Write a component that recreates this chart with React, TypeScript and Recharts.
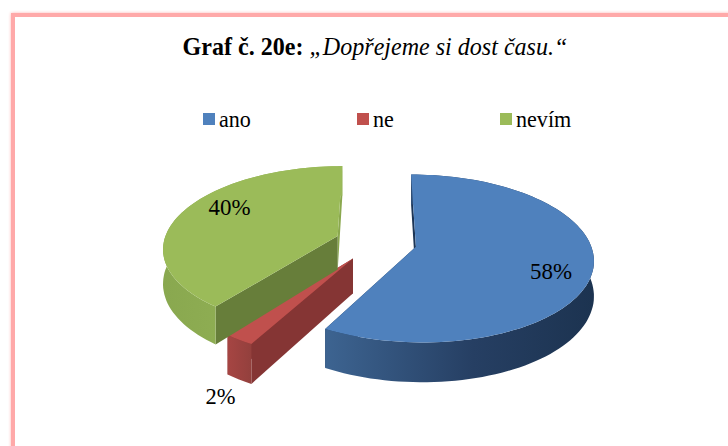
import { Legend, Pie, PieChart } from "recharts";

const categories = ["ano", "ne", "nevím"];
const shares = [58, 2.4, 39.6];
const percentLabels = ["58%", "2%", "40%"];
const labelWidths = [42, 30, 42];
const legendTextWidths = [32, 21, 55];

const topColors = ["#4F81BD", "#C0504D", "#9BBB59"];
// wall colours: radial face where the slice starts, radial face where it ends
const startFaceColors = ["#1C3556", "#853534", "#677E3A"];
const endFaceColors = ["#1C3556", "#853534", "#8AA84E"];
const wallGradients = ["wallBlue", "wallRed", "wallGreen"];

// fake 3D set-up: how the flat pie is tilted and how far the slices are pulled out
const TILT_RADIUS = 81;
const PERSPECTIVE = 0.138;
const EXPLODE = 0.235;
const DEPTH = 34;
const labelFractions = [0.74, 0.95, 0.67];
const labelShifts = [
  [5, 9],
  [-25, 61],
  [-3, -12],
];

const FONT = "'Liberation Serif', 'Times New Roman', serif";

const chartData = categories.map((name, i) => ({
  name,
  value: shares[i],
  label: percentLabels[i],
}));

type Pt = [number, number];

// x, y are offsets on the pie's plane, in px, y pointing to the viewer
function project(cx: number, cy: number, r: number, x: number, y: number, drop = 0): Pt {
  const yTilted = (y * TILT_RADIUS) / r;
  const s = 1 / (1 - (PERSPECTIVE * yTilted) / TILT_RADIUS);
  return [cx + x * s, cy + yTilted * s + drop * s];
}

const polar = (r: number, clock: number): Pt => {
  const a = (clock * Math.PI) / 180;
  return [r * Math.sin(a), -r * Math.cos(a)];
};

const toPath = (pts: Pt[]) =>
  "M" + pts.map((p) => `${p[0].toFixed(1)},${p[1].toFixed(1)}`).join("L") + "Z";

function Slice3D(props: any) {
  const { cx, cy, outerRadius, startAngle, endAngle, index } = props;
  const from = 90 - startAngle;
  const to = 90 - endAngle;
  const [ox, oy] = polar(outerRadius * EXPLODE, (from + to) / 2);

  const onTop = (r: number, clock: number, drop = 0) => {
    const [x, y] = polar(r, clock);
    return project(cx, cy, outerRadius, ox + x, oy + y, drop);
  };

  const rim: number[] = [];
  const steps = Math.max(4, Math.round((to - from) / 2));
  for (let k = 0; k <= steps; k++) rim.push(from + ((to - from) * k) / steps);

  const top = [onTop(0, 0), ...rim.map((a) => onTop(outerRadius, a))];
  const wall = [
    ...rim.map((a) => onTop(outerRadius, a)),
    ...rim.slice().reverse().map((a) => onTop(outerRadius, a, DEPTH)),
  ];
  const face = (clock: number) => [
    onTop(0, 0),
    onTop(outerRadius, clock),
    onTop(outerRadius, clock, DEPTH),
    onTop(0, 0, DEPTH),
  ];

  return (
    <g>
      <path d={toPath(face(to))} fill={endFaceColors[index]} />
      <path d={toPath(face(from))} fill={startFaceColors[index]} />
      <path d={toPath(wall)} fill={`url(#${wallGradients[index]})`} />
      <path d={toPath(top)} fill={topColors[index]} />
    </g>
  );
}

function SliceLabel(props: any) {
  const { cx, cy, outerRadius, startAngle, endAngle, index, payload } = props;
  const mid = 90 - (startAngle + endAngle) / 2;
  const [ox, oy] = polar(outerRadius * (EXPLODE + labelFractions[index]), mid);
  const [x, y] = project(cx, cy, outerRadius, ox, oy);
  return (
    <text
      x={x + labelShifts[index][0]}
      y={y + labelShifts[index][1]}
      textAnchor="middle"
      dominantBaseline="central"
      fontFamily={FONT}
      fontSize={24}
      textLength={labelWidths[index]}
      lengthAdjust="spacingAndGlyphs"
      fill="#000"
    >
      {payload.label}
    </text>
  );
}

function LegendRow({ payload }: any) {
  return (
    <div style={{ display: "flex", gap: 106, fontFamily: FONT, fontSize: 24, lineHeight: "24px" }}>
      {payload.map((entry: any, i: number) => (
        <div key={entry.value} style={{ display: "flex", alignItems: "center", gap: 4 }}>
          <span style={{ width: 12, height: 12, background: topColors[i] }} />
          <span
            style={{
              display: "block",
              width: legendTextWidths[i],
              whiteSpace: "nowrap",
              color: "#000",
              transform: "scaleX(0.92)",
              transformOrigin: "0 0",
            }}
          >
            {categories[i]}
          </span>
        </div>
      ))}
    </div>
  );
}

export default function App() {
  return (
    <div style={{ position: "relative", width: 728, height: 446, overflow: "hidden", background: "#fff" }}>
      <style>{"body{margin:0}"}</style>
      <div
        style={{
          position: "absolute",
          left: 11,
          top: 13,
          width: 800,
          height: 600,
          border: "4px solid #FFA9A9",
          boxShadow: "0 0 3px #FFB4B4",
        }}
      />
      <div
        style={{
          position: "absolute",
          top: 33,
          left: 0,
          width: 750,
          textAlign: "center",
          fontFamily: FONT,
          fontSize: 26,
          lineHeight: "28px",
          color: "#000",
          transform: "scaleX(0.925)",
          transformOrigin: "375px 0",
        }}
      >
        <b>Graf č. 20e: </b>
        <i>„Dopřejeme si dost času.“</i>
      </div>
      <PieChart
        width={728}
        height={446}
        margin={{ top: 0, right: 0, bottom: 0, left: 0 }}
        style={{ position: "absolute", left: 0, top: 0 }}
      >
        <defs>
          <linearGradient id="wallBlue" x1="0" y1="0" x2="1" y2="0">
            <stop offset="0%" stopColor="#3D6491" />
            <stop offset="55%" stopColor="#263F63" />
            <stop offset="100%" stopColor="#1C3350" />
          </linearGradient>
          <linearGradient id="wallRed" x1="0" y1="0" x2="1" y2="0">
            <stop offset="0%" stopColor="#A64543" />
            <stop offset="100%" stopColor="#93403D" />
          </linearGradient>
          <linearGradient id="wallGreen" x1="0" y1="0" x2="1" y2="0">
            <stop offset="0%" stopColor="#89A84F" />
            <stop offset="100%" stopColor="#99B85A" />
          </linearGradient>
        </defs>
        <Legend
          verticalAlign="top"
          align="left"
          wrapperStyle={{ left: 203, top: 107, width: "auto" }}
          content={<LegendRow />}
        />
        <Pie
          data={chartData}
          dataKey="value"
          nameKey="name"
          cx={376}
          cy={218}
          outerRadius={174}
          startAngle={90}
          endAngle={-270}
          isAnimationActive={false}
          stroke="none"
          shape={<Slice3D />}
          label={<SliceLabel />}
          labelLine={false}
        />
      </PieChart>
    </div>
  );
}
